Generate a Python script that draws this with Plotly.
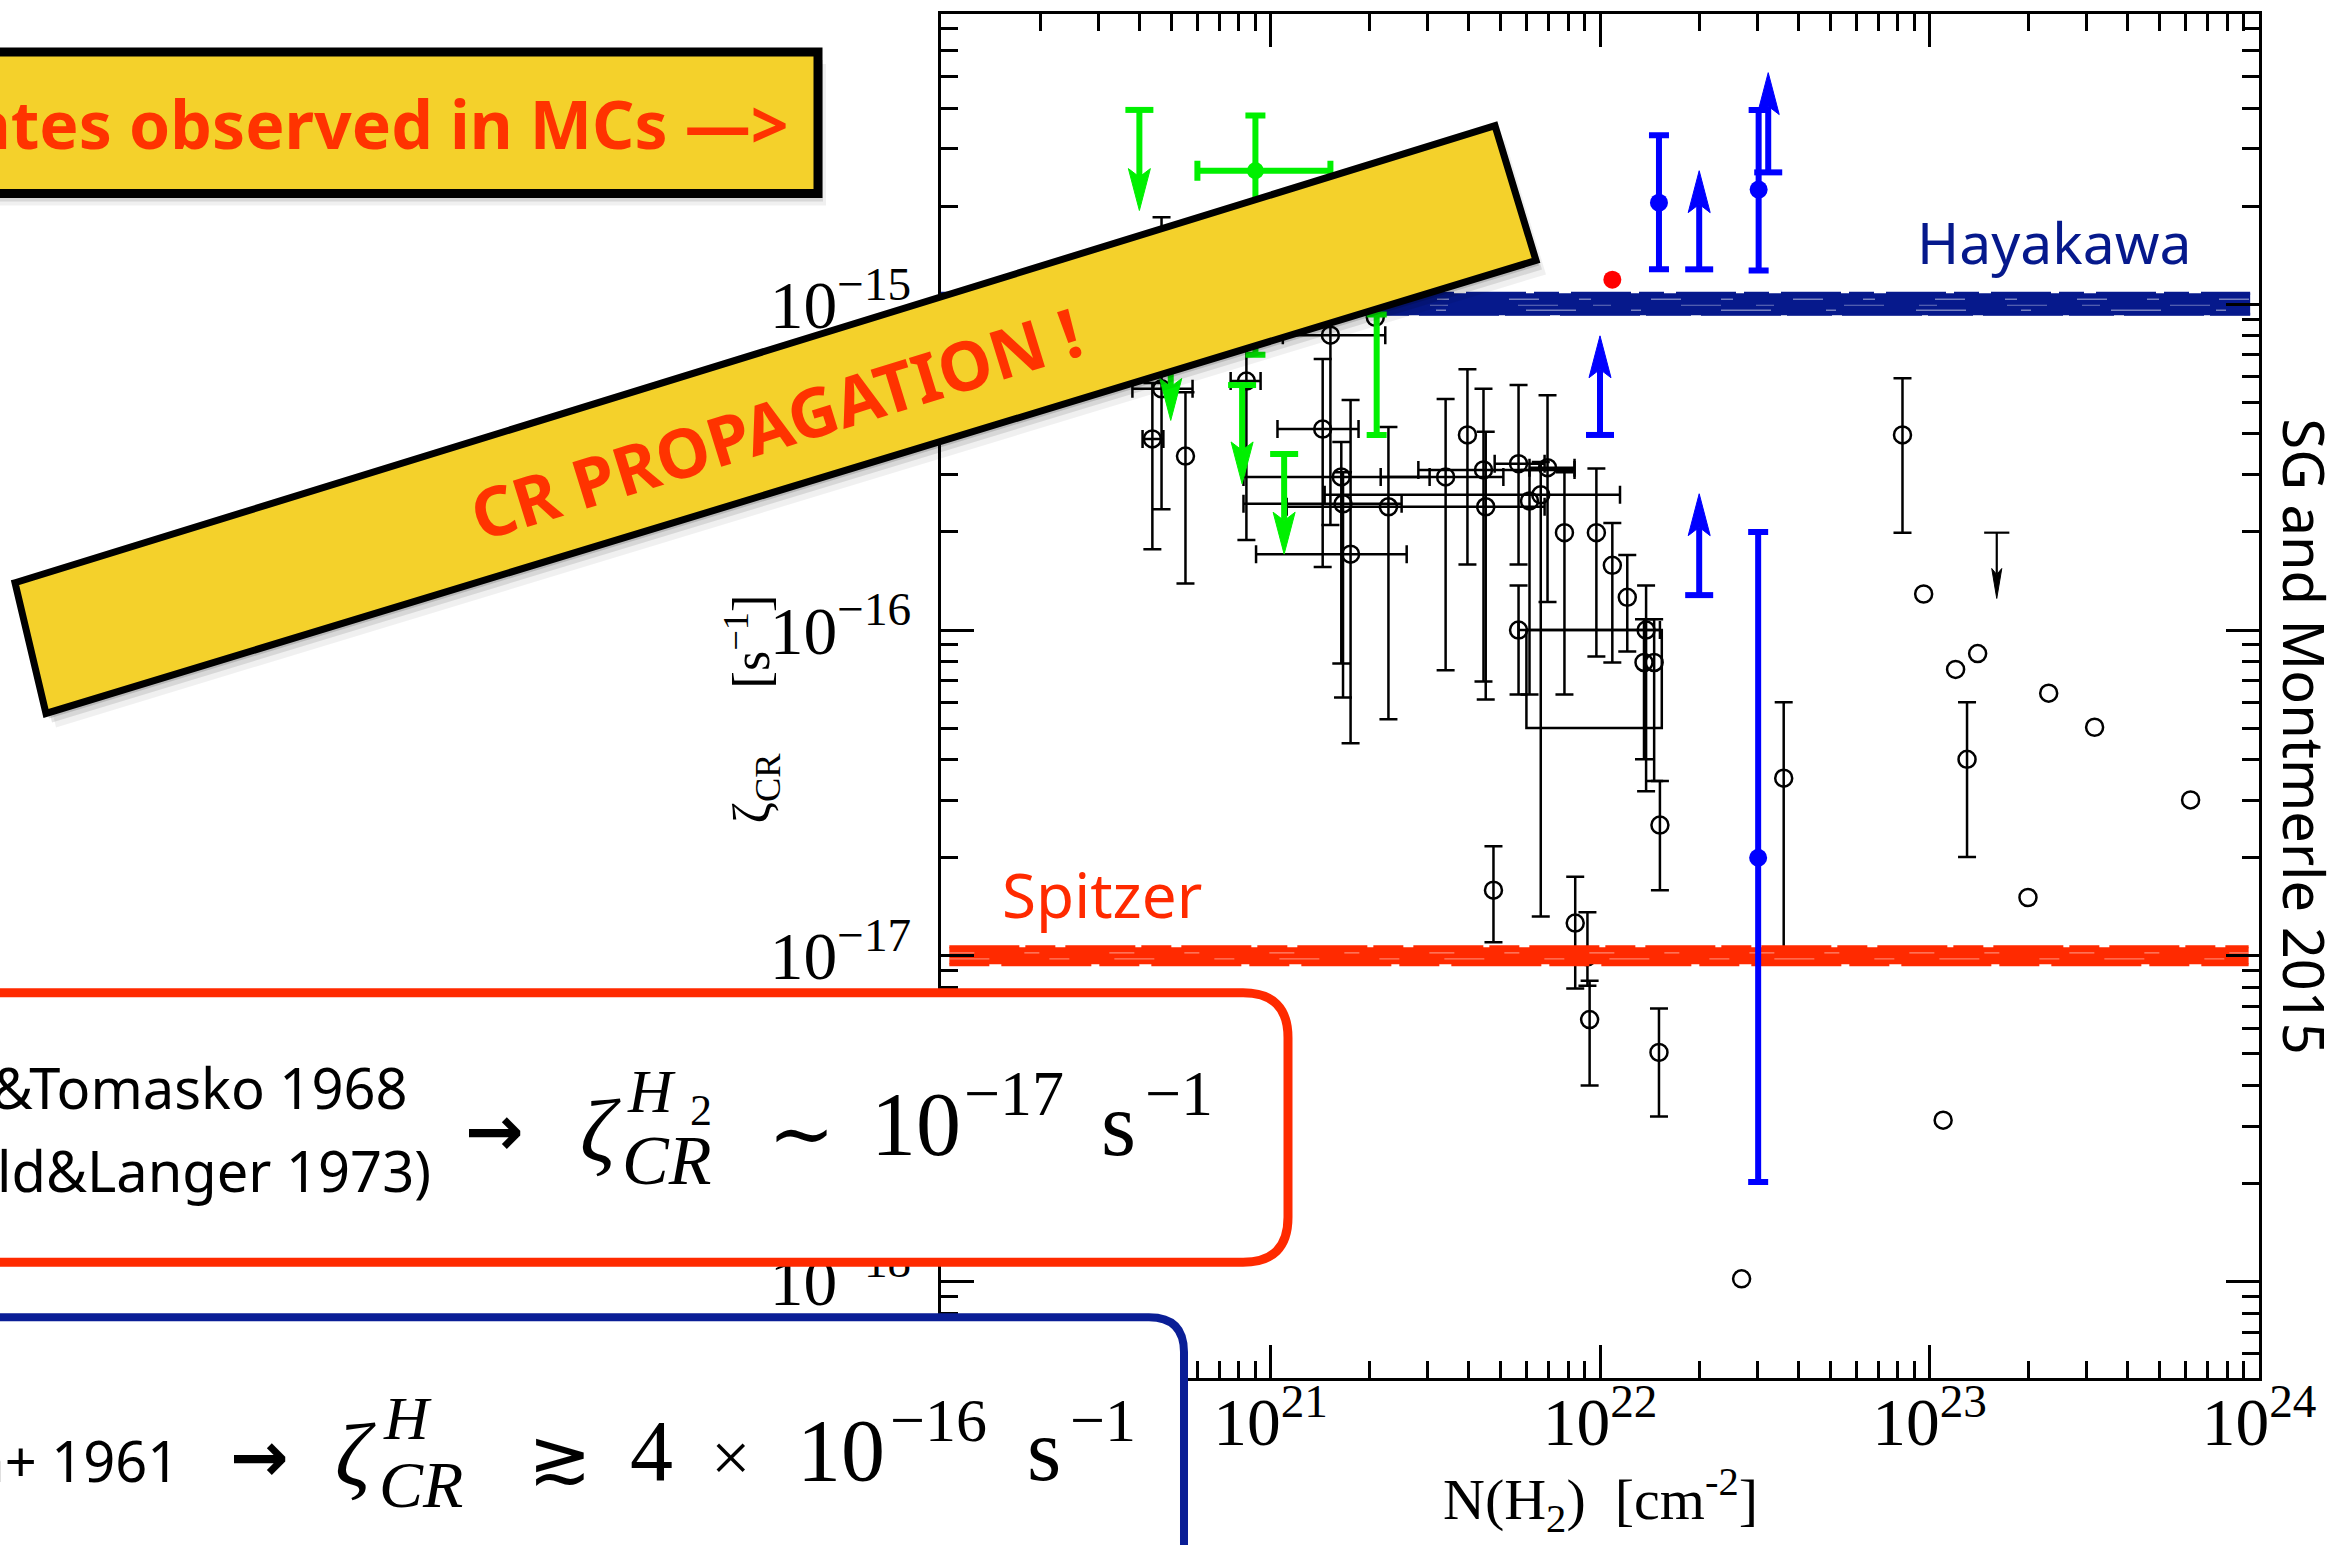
import plotly.graph_objects as go

# ---------------------------------------------------------------------------
# Page geometry (pixels) of the plotting frame
# ---------------------------------------------------------------------------
W, H = 2345, 1545
PL, PR, PT, PB = 941, 2259, 11, 1378
X_RANGE = [20.0, 24.0]          # log10 N(H2)
Y_RANGE = [-18.296, -14.109]    # log10 zeta
DEC_X = (PR - PL) / (X_RANGE[1] - X_RANGE[0])
DEC_Y = (PB - PT) / (Y_RANGE[1] - Y_RANGE[0])


def px(x):
    return (x - PL) / (PR - PL)


def py(y):
    return (PB - y) / (PB - PT)


# ---------------------------------------------------------------------------
# Data: cosmic-ray ionisation rates vs. H2 column density
# ---------------------------------------------------------------------------
# compiled measurements (open circles); None = no bar in that direction
bk_N = [4.38e20, 4.67e20, 5.52e20, 8.45e20, 1.52e21, 1.44e21, 1.64e21, 1.66e21, 1.75e21, 2.28e21,
        3.40e21, 3.96e21, 4.43e21, 4.50e21, 5.66e21, 6.93e21, 6.61e21, 6.11e21, 7.80e21, 9.75e21,
        1.09e22, 1.21e22, 5.66e21, 1.38e22, 1.36e22, 1.46e22, 1.52e22, 3.61e22, 8.28e22, 9.60e22,
        1.20e23, 1.40e23, 1.30e23, 2.30e23, 3.17e23, 6.20e23, 1.99e23, 1.10e23, 2.69e22, 4.75e21,
        8.41e21, 9.16e21, 9.30e21, 1.51e22, 2.08e21]
bk_zeta = [3.86e-16, 5.50e-16, 3.42e-16, 5.81e-16, 8.04e-16, 4.14e-16, 2.95e-16, 2.44e-16, 1.71e-16, 2.39e-16,
           2.95e-16, 3.97e-16, 3.10e-16, 2.39e-16, 3.24e-16, 3.15e-16, 2.60e-16, 2.49e-16, 1.99e-16, 1.99e-16,
           1.58e-16, 1.26e-16, 1.00e-16, 1.00e-16, 7.95e-17, 7.95e-17, 2.52e-17, 3.51e-17, 3.97e-16, 1.29e-16,
           7.57e-17, 8.47e-17, 4.01e-17, 6.40e-17, 5.03e-17, 3.01e-17, 1.51e-17, 3.13e-18, 1.02e-18, 1.59e-17,
           1.26e-17, 9.93e-18, 6.37e-18, 5.05e-18, 9.12e-16]
bk_Nlo = [4.09e20, 3.81e20, None, 7.57e20, 1.09e21, 1.05e21, 8.28e20, 8.28e20, 9.04e20, 1.12e21,
          2.16e21, None, 2.81e21, None, 4.79e21, 6.11e21, 1.46e21, None, None, None,
          None, None, 5.66e21, None, None, None, None, None, None, None,
          None, None, None, None, None, None, None, None, None, None,
          None, None, None, None, None]
bk_Nhi = [4.73e20, 5.80e20, None, 9.33e20, 2.23e21, 1.85e21, 3.04e21, 2.50e21, 2.59e21, 6.79e21,
          5.09e21, None, 8.37e21, None, 6.79e21, 8.37e21, 1.15e22, None, None, None,
          None, None, 1.52e22, None, None, None, None, None, None, None,
          None, None, None, None, None, None, None, None, None, None,
          None, None, None, None, None]
bk_zlo = [1.77e-16, 2.35e-16, 1.39e-16, 1.89e-16, 2.10e-16, 1.56e-16, 7.89e-17, 6.21e-17, 4.49e-17, 5.32e-17,
          7.52e-17, 1.59e-16, 6.95e-17, 6.12e-17, 1.59e-16, 1.22e-16, 1.32e-17, 6.34e-17, 6.34e-17, 8.30e-17,
          7.95e-17, 8.59e-17, 6.34e-17, 3.20e-17, 4.01e-17, 3.44e-17, 1.59e-17, 1.01e-17, 1.99e-16, None,
          None, None, 2.01e-17, None, None, None, None, None, None, 1.10e-17,
          7.93e-18, 8.09e-18, 4.00e-18, 3.21e-18, None]
bk_zhi = [5.73e-16, 1.85e-15, 5.37e-16, 8.20e-16, 1.01e-15, 6.79e-16, 3.78e-16, 3.05e-16, 5.08e-16, 4.20e-16,
          5.12e-16, 6.32e-16, 5.50e-16, 4.06e-16, 5.65e-16, 5.26e-16, 3.28e-16, 3.10e-16, 3.05e-16, 3.13e-16,
          2.13e-16, 1.70e-16, 1.37e-16, 1.37e-16, 1.08e-16, 1.08e-16, 3.44e-17, 6.00e-17, 5.93e-16, None,
          None, None, 6.00e-17, None, None, None, None, None, None, 2.17e-17,
          1.75e-17, 1.36e-17, 8.38e-18, 6.89e-18, None]

# range box (N and zeta limits)
box_N = [5.98e21, 1.54e22]
box_zeta = [5.0e-17, 1.0e-16]

# black upper limit
bk_ul_N = [1.60e23]
bk_ul_top = [1.99e-16]
bk_ul_tip = [1.25e-16]

# green: upper limits, one detection, one range
gr_ul_N = [4.0e20, 4.98e20, 8.2e20, 1.1e21]
gr_ul_top = [3.95e-15, 7.0e-16, 5.65e-16, 3.47e-16]
gr_ul_tip = [1.94e-15, 4.4e-16, 2.81e-16, 1.71e-16]
gr_pt_N = [9.0e20]
gr_pt_zeta = [2.57e-15]
gr_pt_Nlo = [6.0e20]
gr_pt_Nhi = [1.52e21]
gr_pt_zlo = [7.0e-16]
gr_pt_zhi = [3.8e-15]
gr_rng_N = [2.1e21]
gr_rng_lo = [3.97e-16]
gr_rng_hi = [9.3e-16]

# blue: detections and lower limits
bl_pt_N = [1.51e22, 3.03e22, 3.02e22]
bl_pt_zeta = [2.05e-15, 2.25e-15, 2.0e-17]
bl_pt_zlo = [1.28e-15, 1.27e-15, 2.02e-18]
bl_pt_zhi = [3.3e-15, 3.95e-15, 2.0e-16]
bl_ll_N = [2.0e22, 3.24e22, 1.0e22, 2.0e22]
bl_ll_base = [1.28e-15, 2.54e-15, 3.97e-16, 1.28e-16]
bl_ll_tip = [2.57e-15, 5.14e-15, 8.0e-16, 2.62e-16]

# red point
rd_N = [1.09e22]
rd_zeta = [1.19e-15]

# reference levels
HAYAKAWA = 1.0e-15
SPITZER = 1.0e-17
hay_N = [1.0e20, 9.4e23]
spz_N = [1.06e20, 9.3e23]

BLACK = "#000000"
GREEN = "#00f000"
BLUE = "#0000ff"
NAVY = "#06198c"
ORANGE = "#ff2a00"
YELLOW = "#f4d12b"

fig = go.Figure()


def err(v, lo, hi):
    return [h - x for x, h in zip(v, hi)], [x - l for x, l in zip(v, lo)]


# ---------------- black points, split by which bars they carry -------------
grp = {"xy": [], "y": [], "none": []}
for i in range(len(bk_N)):
    if bk_Nlo[i] is not None:
        grp["xy"].append(i)
    elif bk_zlo[i] is not None:
        grp["y"].append(i)
    else:
        grp["none"].append(i)

mk_open = dict(symbol="circle-open", size=17, color=BLACK, line=dict(width=2.5, color=BLACK))
for key, idx in grp.items():
    xs = [bk_N[i] for i in idx]
    ys = [bk_zeta[i] for i in idx]
    kw = {}
    if key in ("xy", "y"):
        a, am = err(ys, [bk_zlo[i] for i in idx], [bk_zhi[i] for i in idx])
        kw["error_y"] = dict(type="data", symmetric=False, array=a, arrayminus=am,
                             thickness=2.5, width=9, color=BLACK)
    if key == "xy":
        a, am = err(xs, [bk_Nlo[i] for i in idx], [bk_Nhi[i] for i in idx])
        kw["error_x"] = dict(type="data", symmetric=False, array=a, arrayminus=am,
                             thickness=2.5, width=9, color=BLACK)
    fig.add_trace(go.Scatter(x=xs, y=ys, mode="markers", marker=mk_open, hoverinfo="skip", **kw))

# range box
fig.add_trace(go.Scatter(
    x=[box_N[0], box_N[1], box_N[1], box_N[0], box_N[0]],
    y=[box_zeta[1], box_zeta[1], box_zeta[0], box_zeta[0], box_zeta[1]],
    mode="lines", line=dict(color=BLACK, width=2.5), hoverinfo="skip"))


# ---------------- limit arrows ----------------------------------------------
def arrows(Ns, starts, tips, color, width, head_len, head_half, cap):
    up = tips[0] > starts[0]
    hl = head_len / DEC_Y
    hw = head_half / DEC_X
    sx, sy, hx, hy = [], [], [], []
    for n, s, t in zip(Ns, starts, tips):
        base = t * 10 ** (-hl if up else hl)
        notch = t * 10 ** ((-hl if up else hl) * 0.8)
        sx += [n, n, None]
        sy += [s, notch, None]
        hx += [n * 10 ** -hw, n, n * 10 ** hw, n, n * 10 ** -hw, None]
        hy += [base, t, base, notch, base, None]
    fig.add_trace(go.Scatter(x=sx, y=sy, mode="lines", line=dict(color=color, width=width),
                             hoverinfo="skip"))
    fig.add_trace(go.Scatter(x=hx, y=hy, mode="lines", fill="toself", fillcolor=color,
                             line=dict(color=color, width=1), hoverinfo="skip"))
    fig.add_trace(go.Scatter(x=list(Ns), y=list(starts), mode="markers", hoverinfo="skip",
                             marker=dict(symbol="line-ew", size=cap,
                                         line=dict(color=color, width=width))))


# ---------------- reference bands (Hayakawa / Spitzer) ------------------------
def band(Ns, level, color, width, streaks):
    fig.add_trace(go.Scatter(x=Ns, y=[level] * len(Ns), mode="lines",
                             line=dict(color=color, width=width), hoverinfo="skip"))
    for off, w, c, dash in streaks:
        f = 10 ** (-off / DEC_Y)
        fig.add_trace(go.Scatter(x=Ns, y=[level * f] * len(Ns), mode="lines",
                                 line=dict(color=c, width=w, dash=dash), hoverinfo="skip"))


band(hay_N, HAYAKAWA, NAVY, 22, [
    (-11, 3, NAVY, "60px,8px,25px,12px"),
    (10, 3, NAVY, "45px,10px,80px,6px"),
    (-5, 1.3, "rgba(255,255,255,0.45)", "30px,40px,12px,60px"),
    (1, 1.0, "rgba(255,255,255,0.4)", "18px,70px,40px,35px"),
    (6, 1.3, "rgba(255,255,255,0.45)", "50px,55px,10px,80px"),
])
band(spz_N, SPITZER, ORANGE, 17, [
    (-9, 3, ORANGE, "70px,6px,30px,10px"),
    (9, 3, ORANGE, "40px,12px,90px,8px"),
    (-3, 1.2, "rgba(255,255,255,0.45)", "25px,50px,15px,70px"),
    (3, 1.2, "rgba(255,255,255,0.4)", "40px,60px,20px,45px"),
])

# black upper limit
arrows(bk_ul_N, bk_ul_top, bk_ul_tip, BLACK, 2.2, 30, 5, 18)

# green
arrows(gr_ul_N, gr_ul_top, gr_ul_tip, GREEN, 6, 42, 11, 20)
a, am = err(gr_pt_zeta, gr_pt_zlo, gr_pt_zhi)
b, bm = err(gr_pt_N, gr_pt_Nlo, gr_pt_Nhi)
fig.add_trace(go.Scatter(
    x=gr_pt_N, y=gr_pt_zeta, mode="markers", hoverinfo="skip",
    marker=dict(symbol="circle", size=17, color=GREEN),
    error_y=dict(type="data", symmetric=False, array=a, arrayminus=am, thickness=6, width=10, color=GREEN),
    error_x=dict(type="data", symmetric=False, array=b, arrayminus=bm, thickness=6, width=10, color=GREEN)))
fig.add_trace(go.Scatter(
    x=gr_rng_N, y=gr_rng_lo, mode="markers", hoverinfo="skip",
    marker=dict(size=1, color="rgba(0,0,0,0)"),
    error_y=dict(type="data", symmetric=False,
                 array=[h - l for l, h in zip(gr_rng_lo, gr_rng_hi)], arrayminus=[0] * len(gr_rng_lo),
                 thickness=6, width=10, color=GREEN)))

# blue
arrows(bl_ll_N, bl_ll_base, bl_ll_tip, BLUE, 6, 42, 11, 20)
a, am = err(bl_pt_zeta, bl_pt_zlo, bl_pt_zhi)
fig.add_trace(go.Scatter(
    x=bl_pt_N, y=bl_pt_zeta, mode="markers", hoverinfo="skip",
    marker=dict(symbol="circle", size=18, color=BLUE),
    error_y=dict(type="data", symmetric=False, array=a, arrayminus=am, thickness=6, width=10, color=BLUE)))

# red
fig.add_trace(go.Scatter(x=rd_N, y=rd_zeta, mode="markers", hoverinfo="skip",
                         marker=dict(symbol="circle", size=18, color="#ff0000")))

# ---------------------------------------------------------------------------
# Slide overlays: boxes and banners
# ---------------------------------------------------------------------------
shapes = []


def path_of(cmds):
    out = []
    for c in cmds:
        if c[0] in ("M", "L"):
            out.append(f"{c[0]} {px(c[1]):.5f},{py(c[2]):.5f}")
        elif c[0] == "Q":
            out.append(f"Q {px(c[1]):.5f},{py(c[2]):.5f} {px(c[3]):.5f},{py(c[4]):.5f}")
        elif c[0] == "Z":
            out.append("Z")
    return " ".join(out)


def add_path(cmds, fill, line_color="rgba(0,0,0,0)", line_width=0):
    shapes.append(dict(type="path", xref="paper", yref="paper", path=path_of(cmds),
                       fillcolor=fill, line=dict(color=line_color, width=line_width), layer="above"))


def poly(points):
    return [("M",) + points[0]] + [("L",) + p for p in points[1:]] + [("Z",)]


def open_box(left, top, right, bottom, r):
    return [("M", left, top), ("L", right - r, top), ("Q", right, top, right, top + r),
            ("L", right, bottom - r), ("Q", right, bottom, right - r, bottom),
            ("L", left, bottom), ("Z",)]


# red rounded box
add_path(open_box(-60, 992, 1288, 1262, 45), "white", ORANGE, 9)
# navy rounded box
add_path(open_box(-60, 1317, 1184, 1640, 35), "white", "#0a1e96", 8)

# tilted banner with a soft shadow
banner = [(15, 581), (1495, 123), (1536, 258), (46, 712)]
for dx, dy, a_ in [(10, 14, 0.06), (6, 9, 0.10), (3, 5, 0.14)]:
    add_path(poly([(x + dx, y + dy) for x, y in banner]), f"rgba(0,0,0,{a_})")
add_path(poly(banner), YELLOW, "#000000", 7)

# top-left header box with shadow
hdr = [(-60, 49), (818, 49), (818, 191), (-60, 191)]
for dx, dy, a_ in [(8, 12, 0.06), (5, 8, 0.10), (2, 4, 0.14)]:
    add_path(poly([(x + dx, y + dy) for x, y in hdr]), f"rgba(0,0,0,{a_})")
add_path(poly(hdr), YELLOW, "#000000", 9)

# ---------------------------------------------------------------------------
# Text
# ---------------------------------------------------------------------------
anns = []
SANS = "Noto Sans, DejaVu Sans, sans-serif"
SERIF = "Liberation Serif, Times New Roman, serif"
SYM = "DejaVu Serif, serif"


def label(x, y, text, size, family, color=BLACK, xanchor="center", yanchor="middle", angle=0):
    anns.append(dict(x=px(x), y=py(y), xref="paper", yref="paper", text=text, showarrow=False,
                     font=dict(family=family, size=size, color=color),
                     xanchor=xanchor, yanchor=yanchor, textangle=angle))


# axis titles
label(1600, 1500, "N(H<sub>2</sub>)  [cm<sup>-2</sup>]", 58, SERIF)
label(752, 708, "ζ<sub>CR</sub>     [s<sup>−1</sup>]", 52, SERIF, angle=-90)

# curve labels
label(2054, 240, "Hayakawa", 57, SANS, NAVY)
label(1102, 893, "Spitzer", 62, SANS, ORANGE)
label(2305, 735, "SG and Montmerle 2015", 56, SANS, BLACK, angle=90)

# header and banner captions
label(790, 120, "<b>rates observed in MCs —></b>", 66, SANS, "#ff3300", xanchor="right")
label(775, 420, "<b>CR PROPAGATION !</b>", 68, SANS, "#ff3300", angle=-17.2)

# red box content
label(409, 1086, "(Spitzer&Tomasko 1968", 56, SANS, xanchor="right")
label(433, 1170, "Field&Langer 1973)", 56, SANS, xanchor="right")
label(494, 1130, "<b>→</b>", 70, "DejaVu Sans, sans-serif")
label(600, 1131, "<i>ζ</i>", 88, SERIF)
label(625, 1090, "<i>H</i>", 62, SERIF, xanchor="left")
label(688, 1110, "2", 44, SERIF, xanchor="left")
label(620, 1160, "<i>CR</i>", 70, SERIF, xanchor="left")
label(801, 1133, "∼", 80, SYM)
label(869, 1124, "10", 90, SERIF, xanchor="left")
label(962, 1093, "−17", 64, SERIF, xanchor="left")
label(1099, 1124, "s", 90, SERIF, xanchor="left")
label(1143, 1093, "−1", 64, SERIF, xanchor="left")

# navy box content
label(181, 1460, "Hayakawa+ 1961", 56, SANS, xanchor="right")
label(259, 1457, "<b>→</b>", 70, "DejaVu Sans, sans-serif")
label(355, 1456, "<i>ζ</i>", 88, SERIF)
label(381, 1418, "<i>H</i>", 62, SERIF, xanchor="left")
label(377, 1485, "<i>CR</i>", 66, SERIF, xanchor="left")
label(560, 1457, "≳", 76, SYM)
label(628, 1451, "4", 86, SERIF, xanchor="left")
label(730, 1458, "×", 70, SERIF)
label(795, 1451, "10", 88, SERIF, xanchor="left")
label(888, 1420, "−16", 62, SERIF, xanchor="left")
label(1025, 1451, "s", 88, SERIF, xanchor="left")
label(1068, 1420, "−1", 62, SERIF, xanchor="left")

# ---------------------------------------------------------------------------
# Axes & layout
# ---------------------------------------------------------------------------
axis_common = dict(
    type="log", showgrid=False, zeroline=False, showline=True, linecolor=BLACK, linewidth=3,
    mirror="ticks", ticks="inside", ticklen=33, tickwidth=3, tickcolor=BLACK,
    tickmode="linear", tick0=0, dtick=1, exponentformat="power",
    tickfont=dict(family=SERIF, size=54, color=BLACK),
    minor=dict(ticks="inside", ticklen=17, tickwidth=2.5, tickcolor=BLACK, dtick="D1", showgrid=False),
)

fig.update_layout(
    width=W, height=H, autosize=False,
    margin=dict(l=PL, r=W - PR, t=PT, b=H - PB, pad=0),
    paper_bgcolor="white", plot_bgcolor="white",
    showlegend=False, hovermode=False,
    xaxis=dict(range=X_RANGE, ticklabelstandoff=-14, **axis_common),
    yaxis=dict(range=Y_RANGE, ticklabelstandoff=16, **axis_common),
    shapes=shapes, annotations=anns,
)

fig.write_html("out.html")
